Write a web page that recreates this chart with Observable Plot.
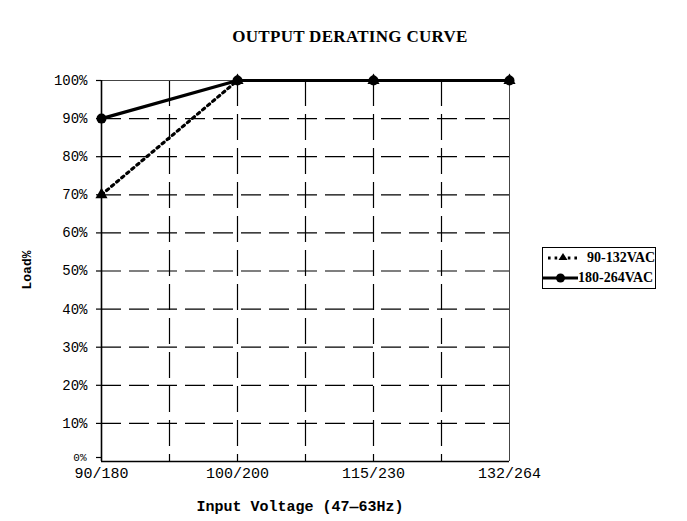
<!DOCTYPE html>
<html><head><meta charset="utf-8">
<script src="https://cdn.jsdelivr.net/npm/d3@7"></script>
<script src="https://cdn.jsdelivr.net/npm/@observablehq/plot@0.6"></script>
<style>
body{margin:0;background:#fff}
#wrap{position:relative;width:687px;height:521px;overflow:hidden}
.ov{position:absolute;color:#000;white-space:nowrap}
#title{left:200px;width:300px;top:27px;text-align:center;font:bold 17px "Liberation Serif",serif;letter-spacing:0.3px}
#xlabel{left:150px;width:300px;top:499px;text-align:center;font:bold 15px "Liberation Mono",monospace}
#ylabel{left:27px;top:270px;transform:translate(-50%,-50%) rotate(-90deg);font:bold 13px "Liberation Mono",monospace}
#legend{left:542px;top:247px;width:112px;height:40px;border:1.5px solid #000;font:bold 14px "Liberation Serif",serif}
#legend .row{position:absolute;left:0;height:20px;display:flex;align-items:center}
#legend svg{display:block}
</style>
</head><body>
<div id="wrap">
  <div id="title" class="ov">OUTPUT DERATING CURVE</div>
  <div id="xlabel" class="ov">Input Voltage (47—63Hz)</div>
  <div id="ylabel" class="ov">Load%</div>
  <div id="legend" class="ov"></div>
</div>
<script>
const categories = ["90/180", "100/200", "115/230", "132/264"];
const seriesNames = ["90-132VAC", "180-264VAC"];
const lowLine = [70, 100, 100, 100];   // 90-132VAC
const highLine = [90, 100, 100, 100];  // 180-264VAC
const yTicks = [0, 10, 20, 30, 40, 50, 60, 70, 80, 90, 100];

const rowsLow = categories.map((c, i) => ({series: seriesNames[0], i, category: c, value: lowLine[i]}));
const rowsHigh = categories.map((c, i) => ({series: seriesNames[1], i, category: c, value: highLine[i]}));
const gridX = d3.range(0.5, categories.length - 1, 0.5);
const innerY = yTicks.filter(d => d > 0 && d < 100);

const chart = Plot.plot({
  width: 687,
  height: 521,
  marginLeft: 101,
  marginRight: 178,
  marginTop: 80,
  marginBottom: 60,
  style: {fontFamily: "Liberation Mono, monospace", background: "transparent", color: "#000"},
  x: {domain: [0, categories.length - 1], label: null},
  y: {domain: [0, 100], label: null},
  marks: [
    Plot.ruleY(innerY, {stroke: "#000", strokeWidth: 1.2, strokeDasharray: "20,8"}),
    Plot.ruleX(gridX, {stroke: "#000", strokeWidth: 1.2, strokeDasharray: "26,8"}),
    Plot.ruleX([categories.length - 1], {stroke: "#444", strokeWidth: 1}),
    Plot.ruleY([100], {stroke: "#444", strokeWidth: 1}),
    Plot.axisY({ticks: yTicks.filter(d => d > 0), tickFormat: d => d + "%", tickSize: 5, tickPadding: 9, fontSize: 14, label: null, stroke: "#000", strokeWidth: 1.2}),
    Plot.axisY({ticks: [0], tickFormat: d => d + "%", tickSize: 5, tickPadding: 10, fontSize: 11, dy: -4, label: null, stroke: "#000", strokeWidth: 1.2}),
    Plot.axisX({ticks: d3.range(categories.length), tickFormat: i => categories[i], tickSize: 0, tickPadding: 6, fontSize: 15, label: null}),
    Plot.ruleX([0], {stroke: "#000", strokeWidth: 1.6}),
    Plot.ruleY([0], {stroke: "#000", strokeWidth: 1.6}),
    Plot.line(rowsLow, {x: "i", y: "value", stroke: "#000", strokeWidth: 3.2, strokeDasharray: "2.6,4"}),
    Plot.dot(rowsLow, {x: "i", y: "value", symbol: "triangle", r: 4.5, fill: "#000", stroke: "none"}),
    Plot.line(rowsHigh, {x: "i", y: "value", stroke: "#000", strokeWidth: 3.2}),
    Plot.dot(rowsHigh, {x: "i", y: "value", symbol: "circle", r: 5, fill: "#000", stroke: "none"})
  ]
});
document.getElementById("wrap").prepend(chart);
chart.style.position = "absolute";
chart.style.left = "0";
chart.style.top = "0";

// legend
const legend = document.getElementById("legend");
const legendSpecs = [
  {name: seriesNames[0], dash: "2.6,4", symbol: "tri", top: 0, w: 40, gap: 4},
  {name: seriesNames[1], dash: null, symbol: "circ", top: 20, w: 35, gap: 0}
];
legendSpecs.forEach(s => {
  const row = document.createElement("div");
  row.className = "row";
  row.style.top = s.top + "px";
  const w = s.w;
  const mark = s.symbol === "tri"
    ? `<path d="M${w/2},5 L${w/2+4.5},12 L${w/2-4.5},12 Z" fill="#000"/>`
    : `<circle cx="${w/2}" cy="10" r="4.5" fill="#000"/>`;
  row.innerHTML = `<svg width="${w}" height="20"><line x1="${s.dash ? 5 : 0}" x2="${w - (s.dash ? 4 : 0)}" y1="10" y2="10" stroke="#000" stroke-width="3" ${s.dash ? `stroke-dasharray="${s.dash}"` : ""}/>${mark}</svg><span style="margin-left:${s.gap}px">${s.name}</span>`;
  legend.appendChild(row);
});
</script>
</body></html>
